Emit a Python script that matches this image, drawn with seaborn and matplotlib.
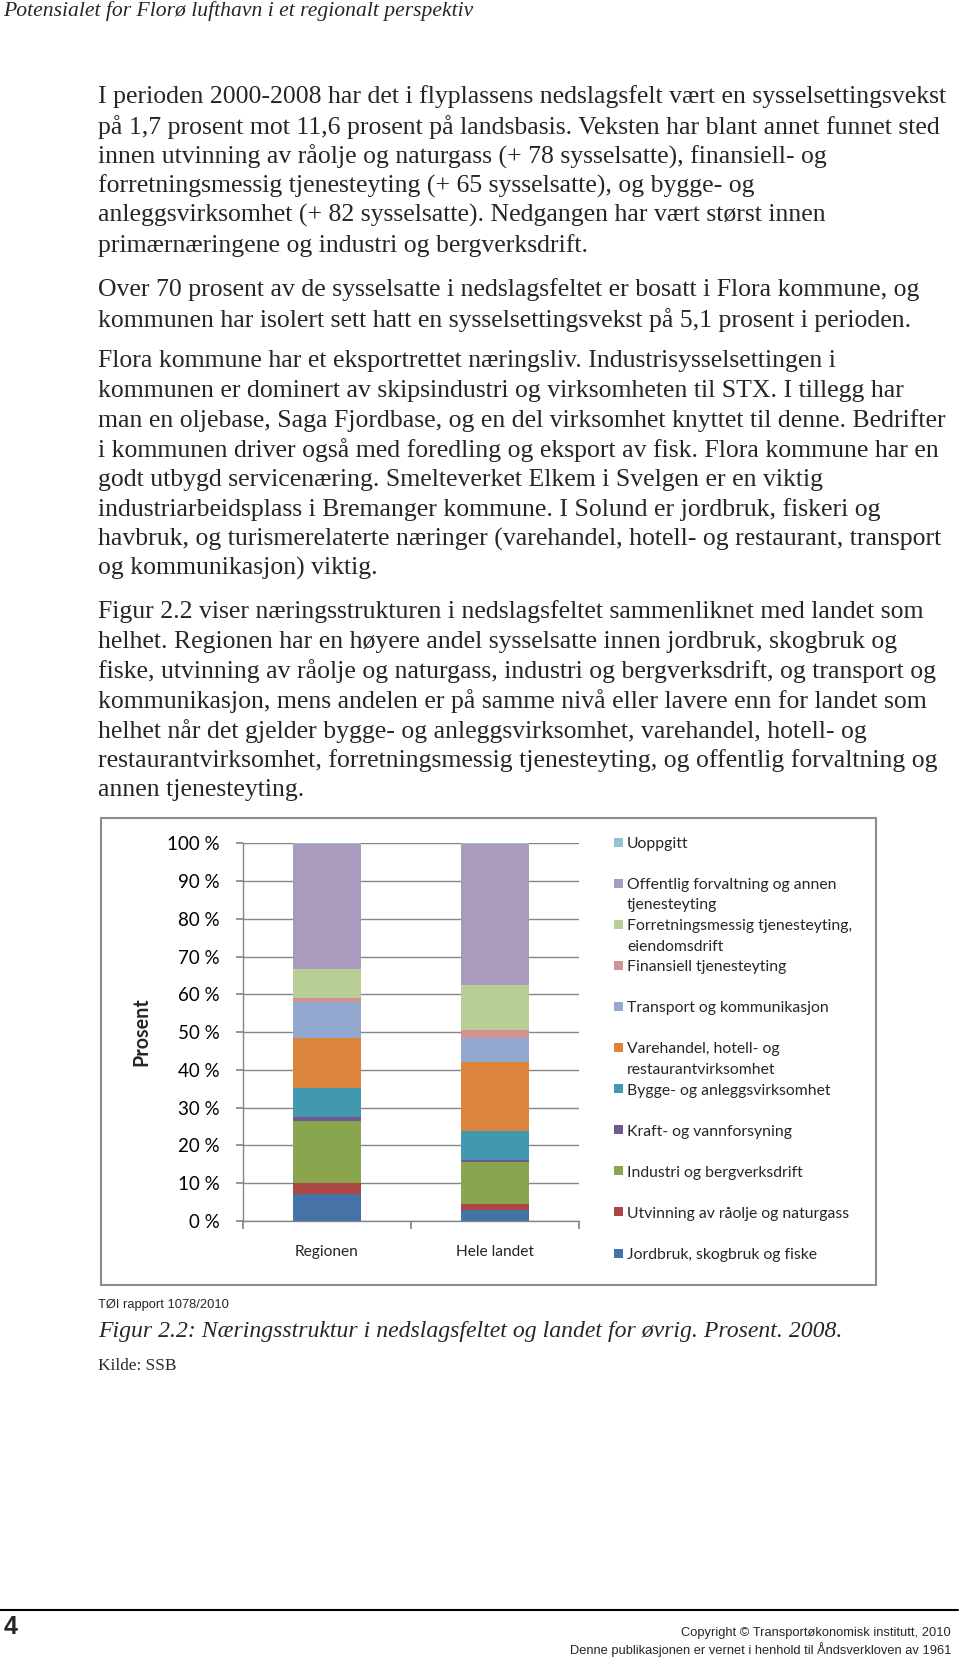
import numpy as np
import pandas as pd
import matplotlib
matplotlib.use("Agg")
import matplotlib.pyplot as plt
from matplotlib.patches import Rectangle
import seaborn as sns

# data (share of employed, percent)
regions = ["Regionen", "Hele landet"]
sectors = [
    "Jordbruk, skogbruk og fiske",
    "Utvinning av råolje og naturgass",
    "Industri og bergverksdrift",
    "Kraft- og vannforsyning",
    "Bygge- og anleggsvirksomhet",
    "Varehandel, hotell- og\nrestaurantvirksomhet",
    "Transport og kommunikasjon",
    "Finansiell tjenesteyting",
    "Forretningsmessig tjenesteyting,\neiendomsdrift",
    "Offentlig forvaltning og annen\ntjenesteyting",
    "Uoppgitt",
]
regionen_pct = [7.1, 2.9, 16.5, 1.0, 7.7, 13.2, 9.5, 1.2, 7.7, 33.0, 0.2]
landet_pct = [2.8, 1.7, 11.2, 0.5, 7.6, 18.2, 6.5, 2.0, 12.0, 37.3, 0.2]
sector_colors = ["#4572A7", "#AA4643", "#89A54E", "#71588F", "#4198AF", "#DB843D",
                 "#93A9CF", "#D19392", "#B9CD96", "#A99BBD", "#91C3D5"]
y_ticks = list(range(0, 101, 10))
y_ticklabels = [f"{t} %" for t in y_ticks]

header = "Potensialet for Florø lufthavn i et regionalt perspektiv"
paragraphs = [
    ["I perioden 2000-2008 har det i flyplassens nedslagsfelt vært en sysselsettingsvekst",
     "på 1,7 prosent mot 11,6 prosent på landsbasis. Veksten har blant annet funnet sted",
     "innen utvinning av råolje og naturgass (+ 78 sysselsatte), finansiell- og",
     "forretningsmessig tjenesteyting (+ 65 sysselsatte), og bygge- og",
     "anleggsvirksomhet (+ 82 sysselsatte). Nedgangen har vært størst innen",
     "primærnæringene og industri og bergverksdrift."],
    ["Over 70 prosent av de sysselsatte i nedslagsfeltet er bosatt i Flora kommune, og",
     "kommunen har isolert sett hatt en sysselsettingsvekst på 5,1 prosent i perioden."],
    ["Flora kommune har et eksportrettet næringsliv. Industrisysselsettingen i",
     "kommunen er dominert av skipsindustri og virksomheten til STX. I tillegg har",
     "man en oljebase, Saga Fjordbase, og en del virksomhet knyttet til denne. Bedrifter",
     "i kommunen driver også med foredling og eksport av fisk. Flora kommune har en",
     "godt utbygd servicenæring. Smelteverket Elkem i Svelgen er en viktig",
     "industriarbeidsplass i Bremanger kommune. I Solund er jordbruk, fiskeri og",
     "havbruk, og turismerelaterte næringer (varehandel, hotell- og restaurant, transport",
     "og kommunikasjon) viktig."],
    ["Figur 2.2 viser næringsstrukturen i nedslagsfeltet sammenliknet med landet som",
     "helhet. Regionen har en høyere andel sysselsatte innen jordbruk, skogbruk og",
     "fiske, utvinning av råolje og naturgass, industri og bergverksdrift, og transport og",
     "kommunikasjon, mens andelen er på samme nivå eller lavere enn for landet som",
     "helhet når det gjelder bygge- og anleggsvirksomhet, varehandel, hotell- og",
     "restaurantvirksomhet, forretningsmessig tjenesteyting, og offentlig forvaltning og",
     "annen tjenesteyting."],
]
para_tops = [97, 290, 361, 612]

W, H = 960, 1659
sns.set_theme(style="white")
fig = plt.figure(figsize=(W / 100, H / 100), dpi=100)

def fx(px):
    return px / W

def fy(py):
    return 1 - py / H

serif = ["Liberation Serif", "DejaVu Serif"]
chart_font = ["Lato", "DejaVu Sans"]
sans = ["Liberation Sans", "DejaVu Sans"]

# page text
fig.text(fx(3), fy(11), header, family=serif, style="italic", fontsize=15.6, va="center")
for top, lines in zip(para_tops, paragraphs):
    for i, line in enumerate(lines):
        fig.text(fx(98), fy(top + i * 29.7), line, family=serif, fontsize=18.5, va="center")

# chart frame
fig.patches.append(Rectangle((fx(101), fy(1285)), fx(876) - fx(101), fy(818) - fy(1285),
                             transform=fig.transFigure, fill=False, edgecolor="#8c8c8c", lw=1.5))

ax = fig.add_axes([fx(243), fy(1221), fx(579) - fx(243), fy(843.3) - fy(1221)])

# stacked bars: draw cumulative totals from the top down
cum_reg = np.cumsum(regionen_pct)
cum_land = np.cumsum(landet_pct)
for k in range(len(sectors) - 1, -1, -1):
    df = pd.DataFrame({"region": regions, "value": [cum_reg[k], cum_land[k]]})
    sns.barplot(data=df, x="region", y="value", color=sector_colors[k], saturation=1,
                width=0.4, errorbar=None, ax=ax, zorder=3, linewidth=0)

ax.set_xlim(-0.5, 1.5)
ax.set_ylim(0, 100)
ax.set_yticks(y_ticks)
ax.set_yticklabels(y_ticklabels, family=chart_font, fontsize=13.5, color="#000000")
ax.yaxis.grid(True, color="#868686", lw=1.0, zorder=0)
ax.set_axisbelow(True)
ax.set_xticks([-0.5, 0.5, 1.5], minor=False)
ax.set_xticklabels([])
ax.set_xticks([0, 1], minor=True)
ax.set_xticklabels(regions, minor=True, family=chart_font, fontsize=11.2)
ax.tick_params(axis="x", which="major", length=6, color="#868686", direction="out", bottom=True)
ax.tick_params(axis="x", which="minor", length=0, pad=17)
ax.tick_params(axis="y", length=5, color="#868686", direction="out", left=True, pad=12)
ax.set_xlabel("")
ax.set_ylabel("")
for side in ["top", "right"]:
    ax.spines[side].set_visible(False)
for side in ["left", "bottom"]:
    ax.spines[side].set_color("#868686")
    ax.spines[side].set_linewidth(1.0)
fig.text(fx(141), fy(1032), "Prosent", rotation=90, family=chart_font, fontweight="bold",
         fontsize=14.2, ha="center", va="center")

# legend, top entry first
legend_top = 842
legend_step = 41.1
for j, k in enumerate(range(len(sectors) - 1, -1, -1)):
    y = legend_top + j * legend_step
    fig.patches.append(Rectangle((fx(614), fy(y + 4.5)), fx(9), 9 / H,
                                 transform=fig.transFigure, color=sector_colors[k], lw=0))
    fig.text(fx(627), fy(y - 5), sectors[k], family=chart_font, fontsize=11.3,
             va="top", ha="left", linespacing=1.58)

# caption
fig.text(fx(98), fy(1305), "TØI rapport 1078/2010", family=sans, fontsize=9.3, va="center")
fig.text(fx(98), fy(1331), "Figur 2.2: Næringsstruktur i nedslagsfeltet og landet for øvrig. Prosent. 2008.",
         family=serif, style="italic", fontsize=17.1, va="center")
fig.text(fx(98), fy(1366), "Kilde: SSB", family=serif, fontsize=12.4, va="center")

# footer
fig.add_artist(plt.Line2D([fx(0), fx(958)], [fy(1610), fy(1610)], color="black", lw=1.5,
                          transform=fig.transFigure))
fig.text(fx(4), fy(1627), "4", family=sans, fontweight="bold", fontsize=18, va="center")
fig.text(fx(951), fy(1633), "Copyright © Transportøkonomisk institutt, 2010",
         family=sans, fontsize=9.3, va="center", ha="right")
fig.text(fx(951), fy(1650), "Denne publikasjonen er vernet i henhold til Åndsverkloven av 1961",
         family=sans, fontsize=9.3, va="center", ha="right")

fig.savefig("out.png", dpi=100, facecolor="white")
